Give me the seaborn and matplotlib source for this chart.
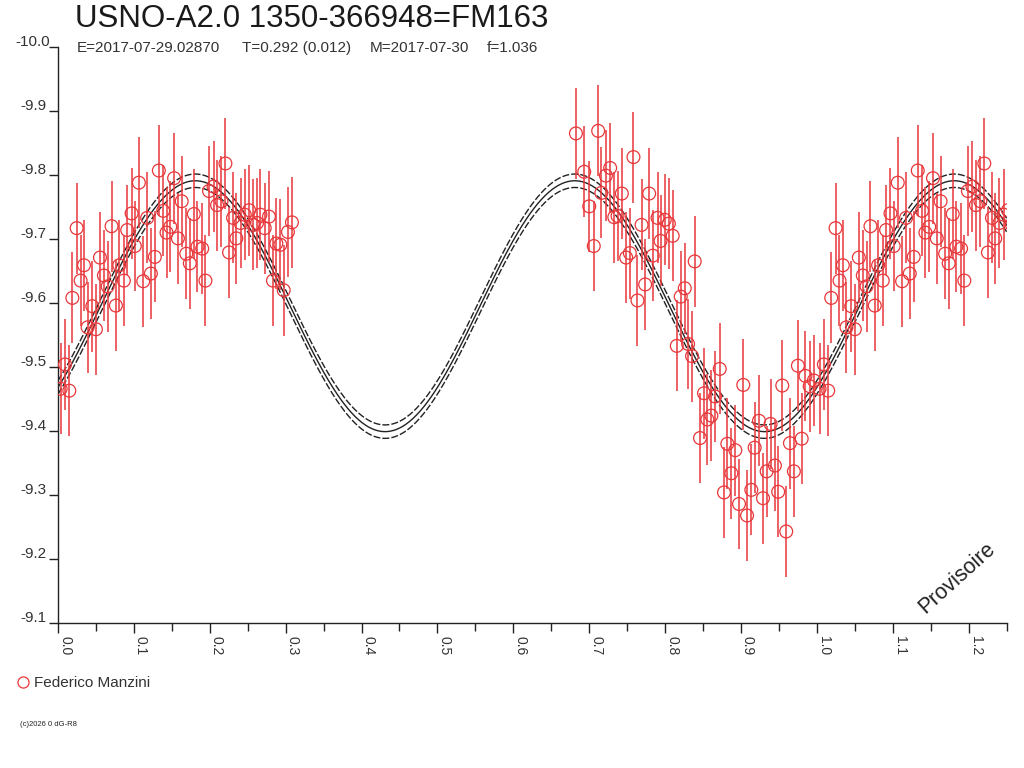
import numpy as np
import pandas as pd
import matplotlib
matplotlib.use("Agg")
import matplotlib.pyplot as plt
import seaborn as sns
from matplotlib import transforms
from matplotlib.ticker import MultipleLocator
from matplotlib.lines import Line2D

# ---------------- data ----------------
phase_a = [0.0035, 0.0092, 0.0149, 0.0189, 0.0246, 0.0298, 0.0342, 0.0390, 0.0452, 0.0500,
           0.0553, 0.0605, 0.0654, 0.0706, 0.0763, 0.0807, 0.0868, 0.0912, 0.0970, 0.1013,
           0.1066, 0.1123, 0.1175, 0.1224, 0.1276, 0.1329, 0.1386, 0.1430, 0.1480, 0.1530,
           0.1580, 0.1630, 0.1690, 0.1737, 0.1790, 0.1838, 0.1900, 0.1943, 0.1990, 0.2050,
           0.2096, 0.2154, 0.2206, 0.2254, 0.2307, 0.2350, 0.2405, 0.2461, 0.2518, 0.2570,
           0.2623, 0.2667, 0.2724, 0.2780, 0.2833, 0.2877, 0.2930, 0.2974, 0.3030, 0.3083]
mag_a = [-9.466, -9.504, -9.463, -9.608, -9.717, -9.635, -9.659, -9.562, -9.595, -9.559,
         -9.671, -9.643, -9.626, -9.720, -9.596, -9.659, -9.635, -9.714, -9.740, -9.689,
         -9.788, -9.634, -9.733, -9.646, -9.672, -9.807, -9.744, -9.710, -9.719, -9.795,
         -9.701, -9.759, -9.677, -9.662, -9.739, -9.688, -9.685, -9.635, -9.775, -9.782,
         -9.753, -9.759, -9.818, -9.679, -9.733, -9.701, -9.725, -9.738, -9.745, -9.722,
         -9.725, -9.738, -9.717, -9.735, -9.635, -9.693, -9.691, -9.620, -9.711, -9.726]

phase_b = [0.6825, 0.6934, 0.7000, 0.7060, 0.7118, 0.7160, 0.7220, 0.7276, 0.7330, 0.7373,
           0.7430, 0.7487, 0.7535, 0.7583, 0.7636, 0.7690, 0.7737, 0.7790, 0.7838, 0.7900,
           0.7940, 0.7996, 0.8050, 0.8100, 0.8154, 0.8206, 0.8259, 0.8303, 0.8355, 0.8390,
           0.8460, 0.8513, 0.8557, 0.8610, 0.8658, 0.8720, 0.8776, 0.8820, 0.8873, 0.8925,
           0.8974, 0.9030, 0.9080, 0.9136, 0.9180, 0.9237, 0.9290, 0.9338, 0.9390, 0.9447,
           0.9490, 0.9544, 0.9596, 0.9645, 0.9697, 0.9750, 0.9800, 0.9850, 0.9905, 0.9960]
mag_b = [-9.865, -9.805, -9.751, -9.689, -9.869, -9.772, -9.799, -9.811, -9.734, -9.736,
         -9.771, -9.671, -9.678, -9.828, -9.604, -9.722, -9.629, -9.771, -9.674, -9.733,
         -9.697, -9.730, -9.724, -9.705, -9.533, -9.610, -9.623, -9.536, -9.517, -9.665,
         -9.389, -9.459, -9.418, -9.424, -9.454, -9.497, -9.304, -9.380, -9.334, -9.370,
         -9.286, -9.472, -9.268, -9.308, -9.374, -9.416, -9.295, -9.337, -9.411, -9.346,
         -9.305, -9.471, -9.243, -9.381, -9.337, -9.502, -9.388, -9.486, -9.470, -9.479]

error_half = 0.071          # half length of every error bar (mag)

# fitted light curve (double wave) parameters
fit_mean = -9.595
fit_amp = 0.196
fit_phase_max = 0.181
fit_band = 0.0105

y_ticks = [-10.0, -9.9, -9.8, -9.7, -9.6, -9.5, -9.4, -9.3, -9.2, -9.1]
x_ticks = [0.0, 0.1, 0.2, 0.3, 0.4, 0.5, 0.6, 0.7, 0.8, 0.9, 1.0, 1.1, 1.2]

title = "USNO-A2.0 1350-366948=FM163"
sub_parts = ["E=2017-07-29.02870", "T=0.292 (0.012)", "M=2017-07-30", "f=1.036"]
observer = "Federico Manzini"

# ---------------- build tables ----------------
ph = np.array(phase_a + phase_b)
mg = np.array(mag_a + mag_b)
df = pd.DataFrame({"phase": np.concatenate([ph, ph + 1.0]),
                   "mag": np.concatenate([mg, mg])})
df = df[df["phase"] <= 1.26]

grid = np.linspace(0, 1.25, 800)
base = fit_mean - fit_amp * np.cos(4 * np.pi * (grid - fit_phase_max))
curves = pd.DataFrame({"phase": grid, "mid": base,
                       "lo": base - fit_band, "hi": base + fit_band})

# ---------------- drawing ----------------
sns.set_theme(style="white")
plt.rcParams['font.family'] = ['Liberation Sans', 'DejaVu Sans']

RED = "#e8373a"
INK = "#222222"
TXT = "#333333"

fig = plt.figure(figsize=(10.24, 7.68), dpi=100)
fig.patch.set_facecolor("white")
ax = fig.add_axes([58 / 1024, 1 - 623 / 768, (1006.6 - 58) / 1024, (623 - 47) / 768])
ax.set_facecolor("white")

sns.lineplot(data=curves, x="phase", y="mid", ax=ax, color=INK, lw=1.0, zorder=2)
sns.lineplot(data=curves, x="phase", y="lo", ax=ax, color=INK, lw=1.0,
             linestyle=(0, (5, 1.5)), zorder=2)
sns.lineplot(data=curves, x="phase", y="hi", ax=ax, color=INK, lw=1.0,
             linestyle=(0, (5, 1.5)), zorder=2)

ax.errorbar(df["phase"], df["mag"], yerr=error_half, fmt="none",
            ecolor=RED, elinewidth=1.1, capsize=0, zorder=3)
sns.scatterplot(data=df, x="phase", y="mag", ax=ax, marker="o", s=85,
                facecolor="none", edgecolor=RED, linewidth=0.9, zorder=4)

ax.set_xlim(0, 1.25)
ax.set_ylim(-9.1, -10.0)
ax.set_xlabel("")
ax.set_ylabel("")

for s in ["top", "right"]:
    ax.spines[s].set_visible(False)
for s in ["left", "bottom"]:
    ax.spines[s].set_color(INK)
    ax.spines[s].set_linewidth(1.0)

ax.set_xticks(x_ticks)
ax.set_xticklabels([f"{v:.1f}" for v in x_ticks])
ax.xaxis.set_minor_locator(MultipleLocator(0.05))
ax.set_yticks(y_ticks)
ax.set_yticklabels([f"{v:.1f}" for v in y_ticks])

ax.tick_params(axis="x", which="major", direction="out", length=7.2, width=1.0,
               color=INK, labelsize=10, labelcolor=TXT, pad=2, bottom=True)
ax.tick_params(axis="x", which="minor", direction="out", length=5.5, width=1.0,
               color=INK, bottom=True)
ax.tick_params(axis="y", which="major", direction="out", length=6.5, width=1.0,
               color=INK, labelsize=11, labelcolor=TXT, pad=11.5, left=True)

for lab in ax.get_xticklabels():
    lab.set_rotation(-90)
    lab.set_ha("left")
    lab.set_va("top")
shift_up = transforms.ScaledTranslation(0, 7 / 100, fig.dpi_scale_trans)
for lab in ax.get_yticklabels():
    lab.set_ha("center")
    lab.set_transform(lab.get_transform() + shift_up)

# titles
fig.text(75 / 1024, 1 - 19 / 768, title, fontsize=22.5, color="#1a1a1a",
         ha="left", va="center")
sub_x = [77, 242, 370, 487]
for xp, t in zip(sub_x, sub_parts):
    fig.text(xp / 1024, 1 - 48 / 768, t, fontsize=11, color=TXT, ha="left", va="center")

# watermark
fig.text(957 / 1024, 1 - 578 / 768, "Provisoire", fontsize=15.5, color="#222222",
         rotation=42, ha="center", va="center", rotation_mode="anchor")

# legend
handle = Line2D([], [], marker="o", ls="none", mfc="none", mec=RED, mew=0.9, ms=8)
fig.legend(handles=[handle], labels=[observer], loc="center left",
           bbox_to_anchor=(15 / 1024, 1 - 683 / 768), frameon=False,
           handletextpad=0.25, handlelength=1.0, fontsize=11, labelcolor=TXT,
           borderaxespad=0, borderpad=0)

fig.text(20 / 1024, 1 - 725 / 768, "(c)2026 0 dG-R8", fontsize=5.5, color="#222222",
         ha="left", va="center")

fig.savefig("out.png", dpi=100, facecolor="white")
